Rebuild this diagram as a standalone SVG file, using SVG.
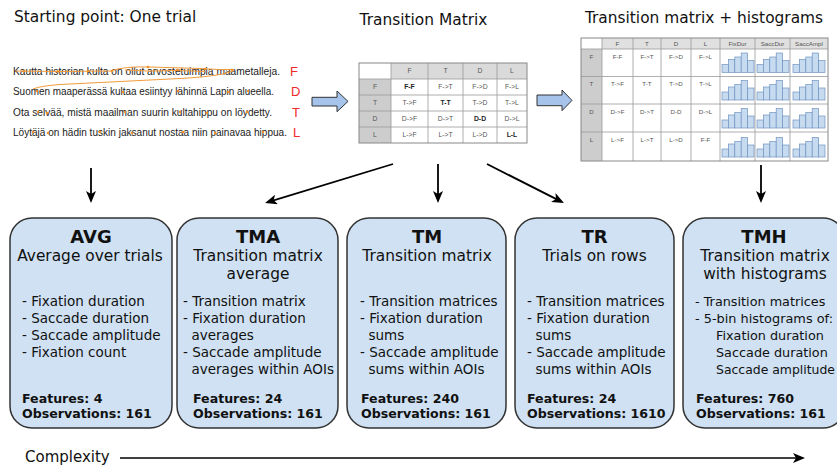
<svg xmlns="http://www.w3.org/2000/svg" xmlns:xlink="http://www.w3.org/1999/xlink" width="837" height="468" viewBox="0 0 837 468">
  <style>
    .title{font-family:"DejaVu Sans",Verdana,sans-serif;font-size:15.4px;fill:#111}
    .sent{font-family:"Liberation Sans",Arial,sans-serif;font-size:10px;fill:#222}
    .aoi{font-family:"Liberation Sans",Arial,sans-serif;font-size:13px;fill:#f02a2a}
    .cell{font-family:"Liberation Sans",Arial,sans-serif;font-size:6.8px;fill:#555;text-anchor:middle}
    .cellb{font-weight:bold;fill:#222}
    .grid{stroke:#9a9a9a;stroke-width:0.8;fill:none}
    .scan{fill:none;stroke:#f39a3a;stroke-width:1}
    .fix{fill:#f0902a}
    .box rect{fill:#cfe1f3;stroke:#333;stroke-width:1.5}
    .box text{font-family:"DejaVu Sans",Verdana,sans-serif;fill:#111;stroke:none}
    .hd{font-weight:bold;font-size:18px;text-anchor:middle}
    .sub{font-size:15.4px;text-anchor:middle}
    .li{font-size:13.5px}
    .lis{font-size:12.8px}
    .ft{font-weight:bold;font-size:12.6px}
    .block{fill:#a6c3ec;stroke:#333;stroke-width:1}
    .conn line{stroke:#000;stroke-width:1.8;marker-end:url(#ah)}
    .hist rect{fill:#c7dbf0;stroke:#6f93c0;stroke-width:0.7}
  </style>
  <defs>
    <marker id="ah" viewBox="0 0 12 10" refX="9" refY="5" markerWidth="12" markerHeight="10" markerUnits="userSpaceOnUse" orient="auto">
      <path d="M0,0 L12,5 L0,10 L3,5 Z" fill="#000"/>
    </marker>
    <!-- five-bin histogram icon, baseline at y=0 -->
    <g id="hist" class="hist">
      <rect x="0" y="-8" width="6.4" height="8"/>
      <rect x="6.4" y="-13" width="6.4" height="13"/>
      <rect x="12.8" y="-15.5" width="6.4" height="15.5"/>
      <rect x="19.2" y="-19.5" width="6.4" height="19.5"/>
      <rect x="25.6" y="-12" width="6.4" height="12"/>
    </g>
  </defs>
  <rect width="837" height="468" fill="#fff"/>

  <!-- column headings -->
  <text class="title" x="14" y="22">Starting point: One trial</text>
  <text class="title" x="423.5" y="25" text-anchor="middle">Transition Matrix</text>
  <text class="title" x="704" y="23" text-anchor="middle">Transition matrix + histograms</text>

  <!-- reading trial with scanpath -->
  <g id="trial">
    <text class="sent" x="13" y="75" textLength="267" lengthAdjust="spacingAndGlyphs">Kautta historian kulta on ollut arvostetuimpia maametalleja.</text>
    <text class="sent" x="13" y="95" textLength="261" lengthAdjust="spacingAndGlyphs">Suomen maaperässä kultaa esiintyy lähinnä Lapin alueella.</text>
    <text class="sent" x="13" y="116" textLength="259" lengthAdjust="spacingAndGlyphs">Ota selvää, mistä maailman suurin kultahippu on löydetty.</text>
    <text class="sent" x="13" y="136" textLength="274" lengthAdjust="spacingAndGlyphs">Löytäjä on hädin tuskin jaksanut nostaa niin painavaa hippua.</text>
    <text class="aoi" x="290" y="76">F</text>
    <text class="aoi" x="291" y="96">D</text>
    <text class="aoi" x="292" y="117">T</text>
    <text class="aoi" x="293" y="137">L</text>
    <path class="scan" d="M15,71 L60,71.5 L110,71 Q125,66 150,67 L200,68.5 Q220,70 234,69.5"/>
    <path class="scan" d="M125,70 Q150,72 175,70.5 L205,71.5"/>
    <path class="scan" d="M234,70 Q225,76 180,78.5 Q110,82 60,84.5 Q40,86 33,89"/>
    <g class="fix">
      <circle cx="24" cy="71" r="1.3"/><circle cx="58" cy="71.5" r="1.3"/><circle cx="88" cy="71" r="1.3"/>
      <circle cx="112" cy="71" r="1.3"/><circle cx="148" cy="67" r="1.3"/><circle cx="178" cy="70" r="1.3"/>
      <circle cx="205" cy="69" r="1.3"/><circle cx="232" cy="70" r="1.3"/>
      <circle cx="37" cy="91" r="1.3"/><circle cx="123" cy="92" r="1.3"/><circle cx="178" cy="91" r="1.3"/>
      <circle cx="228" cy="92" r="1.3"/><circle cx="248" cy="91" r="1.3"/>
      <circle cx="38" cy="112" r="1.3"/><circle cx="47" cy="113" r="1.3"/><circle cx="125" cy="112" r="1.3"/>
      <circle cx="180" cy="112" r="1.3"/><circle cx="207" cy="113" r="1.3"/><circle cx="247" cy="112" r="1.3"/>
      <circle cx="33" cy="132" r="1.3"/><circle cx="48" cy="133" r="1.3"/><circle cx="100" cy="132" r="1.3"/>
      <circle cx="132" cy="133" r="1.3"/><circle cx="183" cy="132" r="1.3"/><circle cx="215" cy="133" r="1.3"/>
      <circle cx="263" cy="132" r="1.3"/>
    </g>
  </g>

  <!-- transition matrix -->
  <g id="matrix">
    <rect x="359" y="63" width="168" height="80" fill="#fff"/>
    <rect x="391" y="63" width="136" height="16" fill="#dadada"/>
    <rect x="359" y="79" width="32" height="64" fill="#cdcdcd"/>
    <path class="grid" d="M391,63V143M428,63V143M463,63V143M497,63V143M359,79H527M359,95H527M359,111H527M359,127H527"/>
    <rect x="359" y="63" width="168" height="80" fill="none" stroke="#888" stroke-width="1"/>
    <g class="cell">
      <text x="409.5" y="73.4">F</text><text x="445.5" y="73.4">T</text><text x="480" y="73.4">D</text><text x="512" y="73.4">L</text>
      <text x="375" y="89.4">F</text><text x="375" y="105.4">T</text><text x="375" y="121.4">D</text><text x="375" y="137.4">L</text>
      <text x="409.5" y="89.4" class="cellb">F-F</text><text x="445.5" y="89.4">F-&gt;T</text><text x="480" y="89.4">F-&gt;D</text><text x="512" y="89.4">F-&gt;L</text>
      <text x="409.5" y="105.4">T-&gt;F</text><text x="445.5" y="105.4" class="cellb">T-T</text><text x="480" y="105.4">T-&gt;D</text><text x="512" y="105.4">T-&gt;L</text>
      <text x="409.5" y="121.4">D-&gt;F</text><text x="445.5" y="121.4">D-&gt;T</text><text x="480" y="121.4" class="cellb">D-D</text><text x="512" y="121.4">D-&gt;L</text>
      <text x="409.5" y="137.4">L-&gt;F</text><text x="445.5" y="137.4">L-&gt;T</text><text x="480" y="137.4">L-&gt;D</text><text x="512" y="137.4" class="cellb">L-L</text>
    </g>
  </g>

  <!-- transition matrix with histograms -->
  <g id="matrix-hist">
    <rect x="581" y="38" width="247" height="123" fill="#fff"/>
    <rect x="602" y="38" width="226" height="11" fill="#e0e0e0"/>
    <rect x="581" y="49" width="21" height="112" fill="#cdcdcd"/>
    <path class="grid" d="M602,38V161M633,38V161M661,38V161M691,38V161M720,38V161M755,38V161M790,38V161M581,49H828M581,76.5H828M581,104H828M581,132H828"/>
    <rect x="581" y="38" width="247" height="123" fill="none" stroke="#888" stroke-width="1"/>
    <g class="cell" style="font-size:6.2px">
      <text x="617.5" y="46">F</text><text x="647" y="46">T</text><text x="676" y="46">D</text><text x="705.5" y="46">L</text>
      <text x="737.5" y="46">FixDur</text><text x="772.5" y="46">SaccDur</text><text x="809" y="46">SaccAmpl</text>
      <text x="591.5" y="58.5">F</text><text x="591.5" y="86">T</text><text x="591.5" y="113.5">D</text><text x="591.5" y="141.5">L</text>
      <text x="617.5" y="58.5">F-F</text><text x="647" y="58.5">F-&gt;T</text><text x="676" y="58.5">F-&gt;D</text><text x="705.5" y="58.5">F-&gt;L</text>
      <text x="617.5" y="86">T-&gt;F</text><text x="647" y="86">T-T</text><text x="676" y="86">T-&gt;D</text><text x="705.5" y="86">T-&gt;L</text>
      <text x="617.5" y="113.5">D-&gt;F</text><text x="647" y="113.5">D-&gt;T</text><text x="676" y="113.5">D-D</text><text x="705.5" y="113.5">D-&gt;L</text>
      <text x="617.5" y="141.5">L-&gt;F</text><text x="647" y="141.5">L-&gt;T</text><text x="676" y="141.5">L-&gt;D</text><text x="705.5" y="141.5">F-F</text>
    </g>
    <use xlink:href="#hist" href="#hist" x="722" y="72.5"/><use xlink:href="#hist" href="#hist" x="757" y="72.5"/><use xlink:href="#hist" href="#hist" x="793" y="72.5"/>
    <use xlink:href="#hist" href="#hist" x="722" y="100"/><use xlink:href="#hist" href="#hist" x="757" y="100"/><use xlink:href="#hist" href="#hist" x="793" y="100"/>
    <use xlink:href="#hist" href="#hist" x="722" y="128"/><use xlink:href="#hist" href="#hist" x="757" y="128"/><use xlink:href="#hist" href="#hist" x="793" y="128"/>
    <use xlink:href="#hist" href="#hist" x="722" y="157"/><use xlink:href="#hist" href="#hist" x="757" y="157"/><use xlink:href="#hist" href="#hist" x="793" y="157"/>
  </g>

  <!-- feature sets -->
  <g id="avg" class="box">
    <rect x="10" y="218" width="162" height="210" rx="22"/>
    <text class="hd" x="91" y="243">AVG</text>
    <text class="sub" x="90" y="261">Average over trials</text>
    <text class="li" x="22" y="306">- Fixation duration</text>
    <text class="li" x="22" y="323">- Saccade duration</text>
    <text class="li" x="22" y="340">- Saccade amplitude</text>
    <text class="li" x="22" y="357">- Fixation count</text>
    <text class="ft" x="22" y="403">Features: 4</text>
    <text class="ft" x="22" y="418">Observations: 161</text>
  </g>
  <g id="tma" class="box">
    <rect x="177" y="218" width="161" height="210" rx="22"/>
    <text class="hd" x="258" y="243">TMA</text>
    <text class="sub" x="258" y="261">Transition matrix</text>
    <text class="sub" x="258" y="279">average</text>
    <text class="li" x="183" y="306">- Transition matrix</text>
    <text class="li" x="183" y="323">- Fixation duration</text>
    <text class="li" x="191.5" y="340">averages</text>
    <text class="li" x="183" y="357">- Saccade amplitude</text>
    <text class="li" x="191.5" y="374">averages within AOIs</text>
    <text class="ft" x="193" y="403">Features: 24</text>
    <text class="ft" x="193" y="418">Observations: 161</text>
  </g>
  <g id="tm" class="box">
    <rect x="347" y="218" width="159" height="210" rx="22"/>
    <text class="hd" x="427" y="243">TM</text>
    <text class="sub" x="427" y="261">Transition matrix</text>
    <text class="li" x="360" y="306">- Transition matrices</text>
    <text class="li" x="360" y="323">- Fixation duration</text>
    <text class="li" x="368.5" y="340">sums</text>
    <text class="li" x="360" y="357">- Saccade amplitude</text>
    <text class="li" x="368.5" y="374">sums within AOIs</text>
    <text class="ft" x="361" y="403">Features: 240</text>
    <text class="ft" x="361" y="418">Observations: 161</text>
  </g>
  <g id="tr" class="box">
    <rect x="515" y="218" width="159" height="210" rx="22"/>
    <text class="hd" x="594.5" y="243">TR</text>
    <text class="sub" x="594.5" y="261">Trials on rows</text>
    <text class="li" x="527" y="306">- Transition matrices</text>
    <text class="li" x="527" y="323">- Fixation duration</text>
    <text class="li" x="535.5" y="340">sums</text>
    <text class="li" x="527" y="357">- Saccade amplitude</text>
    <text class="li" x="535.5" y="374">sums within AOIs</text>
    <text class="ft" x="527" y="403">Features: 24</text>
    <text class="ft" x="527" y="418">Observations: 1610</text>
  </g>
  <g id="tmh" class="box">
    <rect x="683" y="218" width="162" height="210" rx="22"/>
    <text class="hd" x="764" y="243">TMH</text>
    <text class="sub" x="765" y="261">Transition matrix</text>
    <text class="sub" x="765" y="279">with histograms</text>
    <text class="lis" x="695" y="306">- Transition matrices</text>
    <text class="lis" x="695" y="323" textLength="138" lengthAdjust="spacingAndGlyphs">- 5-bin histograms of:</text>
    <text class="lis" x="716" y="340">Fixation duration</text>
    <text class="lis" x="716" y="357">Saccade duration</text>
    <text class="lis" x="716" y="374" textLength="119" lengthAdjust="spacingAndGlyphs">Saccade amplitude</text>
    <text class="ft" x="696" y="403">Features: 760</text>
    <text class="ft" x="696" y="418">Observations: 161</text>
  </g>

  <!-- connectors -->
  <g id="connectors" class="conn">
    <path class="block" d="M312,97.3 L337,97.3 L337,91 L348,101.4 L337,111.7 L337,106 L312,106 Z"/>
    <path class="block" d="M537,95 L562,95 L562,90 L572,100.4 L562,110.7 L562,105.7 L537,105.7 Z"/>
    <line x1="91" y1="168" x2="91" y2="200"/>
    <line x1="393" y1="164" x2="267.9" y2="202.1"/>
    <line x1="438" y1="164" x2="438" y2="200"/>
    <line x1="487" y1="164" x2="561.3" y2="201.6"/>
    <line x1="761" y1="165" x2="761" y2="200"/>
  </g>

  <!-- complexity axis -->
  <g id="complexity" class="conn">
    <text class="title" x="25" y="462" style="font-size:15px">Complexity</text>
    <line x1="120" y1="458" x2="802" y2="458" style="stroke-width:1.5"/>
  </g>
</svg>
